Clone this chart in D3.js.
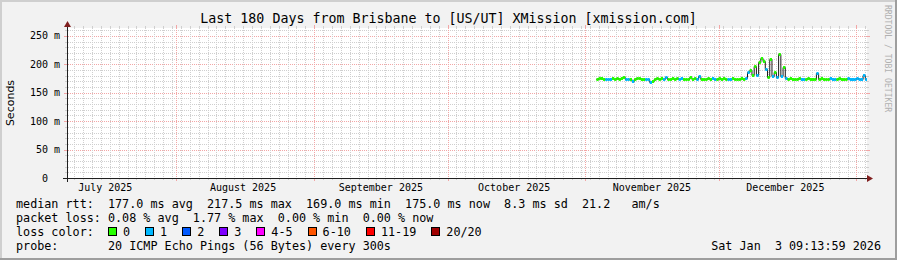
<!DOCTYPE html>
<html>
<head>
<meta charset="utf-8">
<script src="https://cdn.jsdelivr.net/npm/d3@7"></script>
<style>
body { margin: 0; background: #f2f2f2; }
svg text { font-family: "DejaVu Sans Mono", monospace; white-space: pre; }
</style>
</head>
<body>
<div id="chart"></div>
<script>
// smokeping 180 day graph, Brisbane -> XMission

var titleText = "Last 180 Days from Brisbane to [US/UT] XMission [xmission.com]";
var endTime = "2026-01-03 09:13:59";
var rangeDays = 180;
var yMajor = [0, 50, 100, 150, 200, 250];
var yMinorStep = 10;
var yMax = 264;
var xMinorDays = 2;

// one sample every 12 hours, starting at sampleStart
var sampleStart = "2025-11-03 12:00:00";
var sampleHours = 12;
var medianMs = [
    175.0,175.2,175.5,175.0,175.1,174.6,175.0,175.3,175.0,175.4,
    175.0,175.2,177.0,175.0,175.1,174.6,171.0,175.0,175.2,175.6,
    175.0,175.1,175.0,174.6,169.0,170.5,175.0,175.2,175.0,175.6,
    175.0,177.2,175.0,175.1,175.5,175.0,176.6,175.0,175.2,175.0,
    175.1,175.0,177.0,175.0,175.2,175.0,180.0,175.0,175.1,175.0,
    175.3,175.0,175.2,175.0,175.1,175.4,175.0,175.2,175.0,175.1,
    175.0,175.3,175.0,175.1,175.0,175.2,175.0,176.5,186.0,190.0,
    181.0,197.0,182.0,205.0,212.0,206.0,192.0,177.0,209.0,180.0,
    187.0,177.0,217.5,179.0,196.0,176.0,175.0,175.2,175.0,175.1,
    175.0,175.3,175.0,175.1,175.0,175.2,175.0,175.1,175.0,184.0,
    175.0,175.2,175.0,175.1,175.0,175.3,175.0,175.1,175.0,175.2,
    175.0,175.1,175.0,175.2,175.0,175.1,175.0,175.3,175.0,175.1,
    182.0,175.0
];
// lost pings (of 20) per sample
var lossCount = [
    0,0,0,0,1,1,1,0,0,0,
    0,0,0,1,1,0,1,0,0,0,
    0,0,1,1,1,0,0,0,0,0,
    1,1,0,0,0,0,0,1,1,0,
    0,0,0,0,0,1,1,0,0,0,
    0,0,1,1,0,0,0,0,0,1,
    1,0,0,0,0,0,0,1,1,0,
    0,0,1,0,0,0,1,0,0,1,
    0,1,0,1,0,1,0,0,0,0,
    0,0,1,1,0,0,0,0,0,1,
    0,0,0,0,0,1,1,1,0,0,
    0,0,0,1,1,1,1,1,1,1,
    1,1
];

var lossLabels = ["0", "1", "2", "3", "4-5", "6-10", "11-19", "20/20"];
var lossColors = ["#26ff00", "#00b8ff", "#0059ff", "#7e00ff", "#ff00ff", "#ff5500", "#ff0000", "#a00000"];

var legendLines = [
    "median rtt:  177.0 ms avg  217.5 ms max  169.0 ms min  175.0 ms now  8.3 ms sd  21.2   am/s",
    "packet loss: 0.08 % avg  1.77 % max  0.00 % min  0.00 % now",
    "loss color:",
    "probe:       20 ICMP Echo Pings (56 Bytes) every 300s"
];
var dateText = "Sat Jan  3 09:13:59 2026";
var watermark = "RRDTOOL / TOBI OETIKER";

var W = 897, H = 260;
var plot = {left: 67, right: 867, top: 28, bottom: 178};
var gridCol = "#cfcfcf", mgridCol = "#f2a6a6";

var svg = d3.select("#chart").append("svg")
    .attr("width", W)
    .attr("height", H);

// background + 3d frame
svg.append("rect").attr("width", W).attr("height", H).attr("fill", "#f2f2f2");
svg.append("rect").attr("x", 0).attr("y", 0).attr("width", W).attr("height", 2).attr("fill", "#cfcfcf");
svg.append("rect").attr("x", 0).attr("y", 0).attr("width", 2).attr("height", H).attr("fill", "#cfcfcf");
svg.append("rect").attr("x", 0).attr("y", H - 2).attr("width", W).attr("height", 2).attr("fill", "#9e9e9e");
svg.append("rect").attr("x", W - 2).attr("y", 0).attr("width", 2).attr("height", H).attr("fill", "#9e9e9e");

svg.append("rect")
    .attr("x", plot.left).attr("y", plot.top)
    .attr("width", plot.right - plot.left).attr("height", plot.bottom - plot.top)
    .attr("fill", "#ffffff");

var parseTime = d3.utcParse("%Y-%m-%d %H:%M:%S");
var tEnd = parseTime(endTime);
var tStart = d3.utcDay.offset(tEnd, -rangeDays);

var x = d3.scaleUtc().domain([tStart, tEnd]).range([plot.left, plot.right]);
var y = d3.scaleLinear().domain([0, yMax]).range([plot.bottom, plot.top]);

function px(v) { return Math.round(v) + 0.5; }

var grid = svg.append("g").attr("shape-rendering", "crispEdges");

// horizontal grid
var yMinor = d3.range(0, yMax, yMinorStep).filter(function(v) { return yMajor.indexOf(v) < 0; });
function hLine(v, col, stub) {
    var yy = px(y(v));
    grid.append("line").attr("x1", plot.left + 1).attr("x2", plot.right)
        .attr("y1", yy).attr("y2", yy)
        .attr("stroke", col).attr("stroke-dasharray", "1,1");
    grid.append("line").attr("x1", plot.left - stub).attr("x2", plot.left)
        .attr("y1", yy).attr("y2", yy).attr("stroke", col);
    grid.append("line").attr("x1", plot.right).attr("x2", plot.right + stub)
        .attr("y1", yy).attr("y2", yy).attr("stroke", col);
}
yMinor.forEach(function(v) { hLine(v, gridCol, 2); });
yMajor.forEach(function(v) { if (v > 0) hLine(v, mgridCol, 3); });

// vertical grid: minor every 2 days counted from the first midnight, major on month starts
function vLine(t, col, stub) {
    var xx = px(x(t));
    grid.append("line").attr("x1", xx).attr("x2", xx)
        .attr("y1", plot.top).attr("y2", plot.bottom - 1)
        .attr("stroke", col).attr("stroke-dasharray", "1,1");
    grid.append("line").attr("x1", xx).attr("x2", xx)
        .attr("y1", plot.bottom).attr("y2", plot.bottom + stub).attr("stroke", col);
    grid.append("line").attr("x1", xx).attr("x2", xx)
        .attr("y1", plot.top - stub).attr("y2", plot.top).attr("stroke", col);
}
var months = d3.utcMonth.range(tStart, tEnd);
var firstDay = d3.utcDay.floor(tStart);
var days = d3.range(0, rangeDays + 2, xMinorDays)
    .map(function(n) { return d3.utcDay.offset(firstDay, n); })
    .filter(function(t) { return t > tStart && t < tEnd && t.getUTCDate() != 1; });
days.forEach(function(t) { vLine(t, gridCol, 2); });
months.forEach(function(t) { vLine(t, mgridCol, 3); });

// y tick labels
svg.append("g").selectAll("text")
    .data(yMajor)
    .enter().append("text")
    .attr("x", 60)
    .attr("y", function(d) { return y(d) + 3.5; })
    .attr("text-anchor", "end")
    .attr("font-size", "10px")
    .attr("fill", "#000")
    .text(function(d) { return d == 0 ? "0  " : d + " m"; });

// month labels, centred in the middle of the month like rrdtool
var monthFmt = d3.utcFormat("%B %Y");
var labelTimes = d3.utcMonth.range(d3.utcMonth.floor(tStart), tEnd)
    .map(function(t) { return d3.utcDay.offset(t, 15); })
    .filter(function(t) { return t >= tStart && t <= tEnd; });
svg.append("g").selectAll("text")
    .data(labelTimes)
    .enter().append("text")
    .attr("x", function(d) { return x(d); })
    .attr("y", 191)
    .attr("text-anchor", "middle")
    .attr("font-size", "10px")
    .text(function(d) { return monthFmt(d3.utcDay.offset(d, -15)); });

// data: black median line (smoke look) + loss coloured median
var samples = medianMs.map(function(v, i) {
    var t0 = d3.utcHour.offset(parseTime(sampleStart), i * sampleHours);
    var t1 = d3.utcHour.offset(t0, sampleHours);
    if (t1 > tEnd) t1 = tEnd;
    return {t0: t0, t1: t1, v: v, loss: lossCount[i]};
});

var stepLine = d3.line()
    .x(function(d) { return x(d.t0); })
    .y(function(d) { return px(y(d.v)); })
    .curve(d3.curveStepAfter);

svg.append("path")
    .datum(samples.concat([{t0: samples[samples.length - 1].t1, v: samples[samples.length - 1].v}]))
    .attr("d", stepLine)
    .attr("fill", "none")
    .attr("stroke", "#1a1a1a")
    .attr("stroke-width", 1);

function lossColor(n) {
    if (n <= 3) return lossColors[n];
    if (n <= 5) return lossColors[4];
    if (n <= 10) return lossColors[5];
    if (n <= 19) return lossColors[6];
    return lossColors[7];
}

svg.append("g").selectAll("rect")
    .data(samples)
    .enter().append("rect")
    .attr("x", function(d) { return x(d.t0); })
    .attr("width", function(d) { return x(d.t1) - x(d.t0); })
    .attr("y", function(d) { return Math.round(y(d.v)) - 1; })
    .attr("height", 3)
    .attr("fill", function(d) { return lossColor(d.loss); });

// axes with arrows
var axes = svg.append("g").attr("shape-rendering", "crispEdges");
axes.append("line").attr("x1", plot.left - 4).attr("x2", plot.right + 1)
    .attr("y1", plot.bottom + 0.5).attr("y2", plot.bottom + 0.5).attr("stroke", "#1f1f1f");
axes.append("line").attr("x1", plot.left + 0.5).attr("x2", plot.left + 0.5)
    .attr("y1", plot.bottom + 4).attr("y2", plot.top - 2).attr("stroke", "#1f1f1f");
svg.append("path")
    .attr("d", "M" + (plot.left + 0.5) + "," + (plot.top - 7) + " l-3.5,6 h7 z")
    .attr("fill", "#801f1f");
svg.append("path")
    .attr("d", "M" + (plot.right + 6) + "," + (plot.bottom + 0.5) + " l-6,-3.5 v7 z")
    .attr("fill", "#801f1f");

// title, axis label, watermark
svg.append("text")
    .attr("x", W / 2).attr("y", 23)
    .attr("text-anchor", "middle")
    .attr("font-size", "13.3px")
    .text(titleText);

svg.append("text")
    .attr("transform", "translate(14,103) rotate(-90)")
    .attr("text-anchor", "middle")
    .attr("font-size", "11px")
    .style("font-family", "'DejaVu Sans', sans-serif")
    .text("Seconds");

svg.append("text")
    .attr("transform", "translate(885,5) rotate(90)")
    .attr("font-size", "8.1px")
    .attr("fill", "#b0b0b0")
    .text(watermark);

// legend block
var charW = 7.08, legFont = charW / 0.602;
var legend = svg.append("g");
legend.selectAll("text")
    .data(legendLines)
    .enter().append("text")
    .attr("x", 16)
    .attr("y", function(d, i) { return 208 + i * 14; })
    .attr("font-size", legFont + "px")
    .attr("xml:space", "preserve")
    .text(function(d) { return d; });

var cursor = 16 + 13 * charW;
lossLabels.forEach(function(lab, i) {
    legend.append("rect")
        .attr("x", Math.round(cursor) + 0.5).attr("y", 227.5)
        .attr("width", 8).attr("height", 8)
        .attr("fill", lossColors[i]).attr("stroke", "#000");
    legend.append("text")
        .attr("x", cursor + 15).attr("y", 236)
        .attr("font-size", legFont + "px")
        .text(lab);
    cursor += 15 + lab.length * charW + 15;
});

legend.append("text")
    .attr("x", 881).attr("y", 250)
    .attr("text-anchor", "end")
    .attr("font-size", legFont + "px")
    .attr("xml:space", "preserve")
    .text(dateText);
</script>
</body>
</html>
